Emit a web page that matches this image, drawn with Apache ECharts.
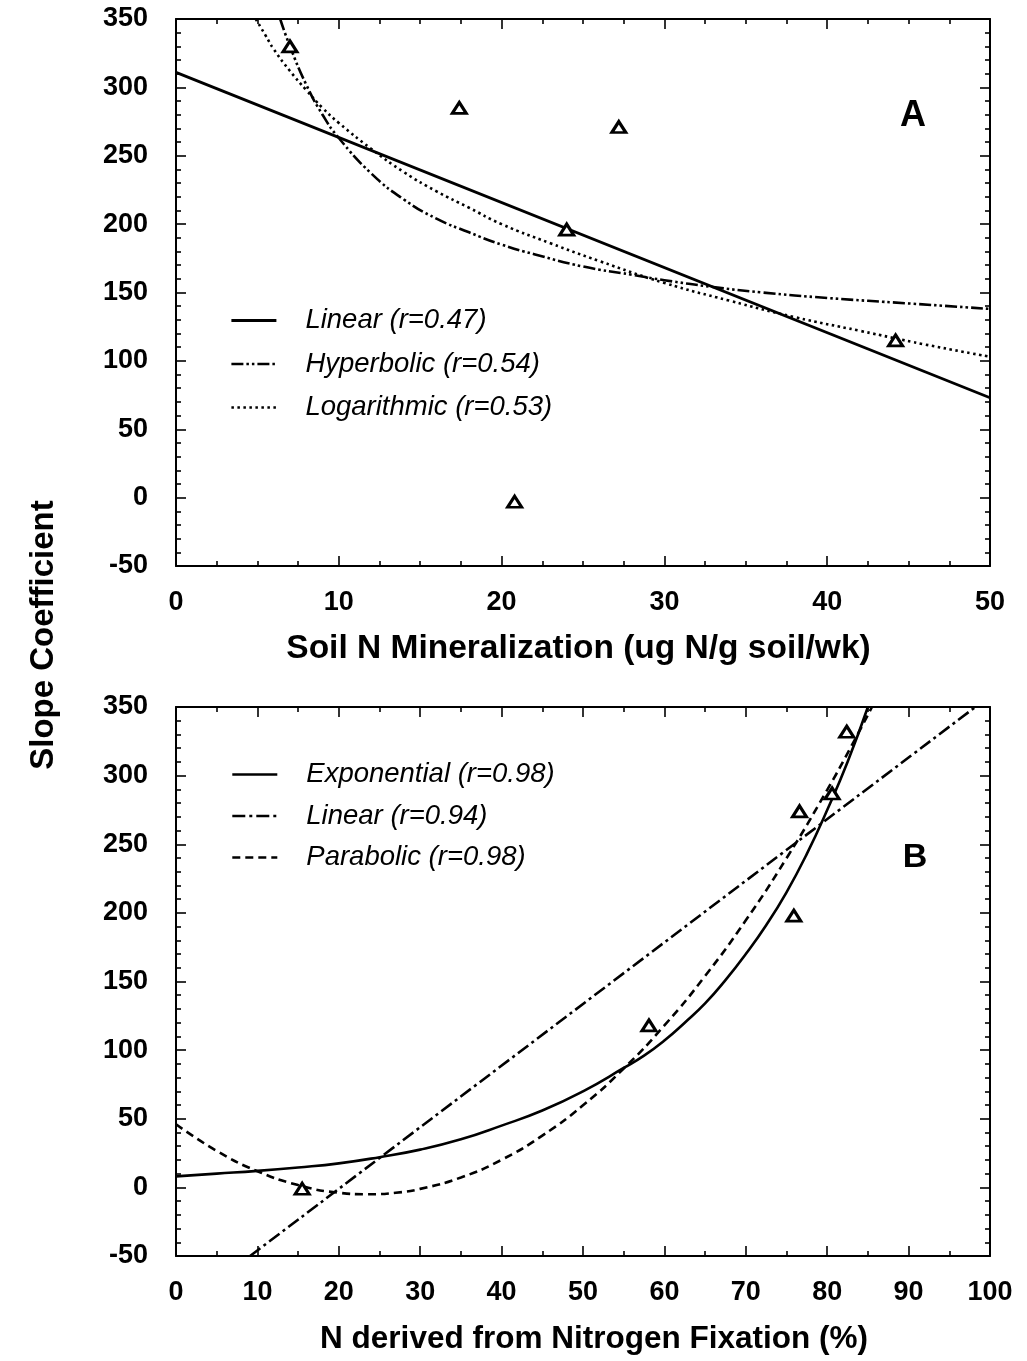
<!DOCTYPE html>
<html><head><meta charset="utf-8">
<script src="https://cdn.jsdelivr.net/npm/echarts@6/dist/echarts.min.js"></script>
<style>html,body{margin:0;padding:0;background:#fff}#c{width:1027px;height:1361px}</style>
</head><body><div id="c"></div>
<script>
// ---------- Panel A : Soil N mineralization ----------
const xTicksA = [0, 10, 20, 30, 40, 50];
const yTicks = [-50, 0, 50, 100, 150, 200, 250, 300, 350];
const obsA_x = [7.0, 17.4, 27.2, 24.0, 44.2, 20.8];
const obsA_y = [330, 285, 271, 196, 115, -3];
const linA_x = [0, 50];
const linA_y = [311, 73];
const hypA_x = [6.4, 7, 8, 9, 10, 12, 14, 16, 18, 20, 22, 25, 28, 30, 33, 36, 40, 45, 50];
const hypA_y = [350, 330, 302, 280, 263, 237, 218, 204, 194, 185, 178, 169, 163, 159, 154, 150, 146, 142, 138];
const logA_x = [4.9, 5.5, 6, 7, 8, 9, 10, 12, 14, 16, 18, 20, 23, 26, 30, 34, 38, 42, 46, 50];
const logA_y = [350, 338, 328, 312, 298, 285, 274, 255, 238, 224, 212, 200, 186, 173, 157, 144, 132, 122, 112, 103];
const legendA = ['Linear (r=0.47)', 'Hyperbolic (r=0.54)', 'Logarithmic (r=0.53)'];

// ---------- Panel B : N from fixation ----------
const xTicksB = [0, 10, 20, 30, 40, 50, 60, 70, 80, 90, 100];
const obsB_x = [15.5, 58.1, 75.9, 76.6, 80.6, 82.4];
const obsB_y = [-1, 118, 198, 274, 287, 332];
const expB_x = [0, 5, 10, 15, 20, 25, 30, 35, 40, 45, 50, 55, 57.5, 60, 62.5, 65, 67.5, 70, 72.5, 75, 77.5, 80, 82.5, 85];
const expB_y = [8, 10, 12, 14.5, 17.5, 22, 27.5, 35, 45, 56, 70, 87, 96, 107, 120, 134, 151, 170, 191, 215, 243, 275, 310, 350];
const linB_x = [9.1, 98.2];
const linB_y = [-50, 350];
const parB_x = [0, 5, 10, 15, 20, 23.5, 27, 30, 35, 40, 45, 50, 55, 60, 65, 70, 75, 80, 83, 85.5];
const parB_y = [46, 26.6, 11.8, 1.7, -3.9, -5, -3.9, -1.1, 7.2, 20.1, 37.7, 59.8, 86.6, 118, 154, 194.6, 239.8, 289.6, 321.8, 350];
const legendB = ['Exponential (r=0.98)', 'Linear (r=0.94)', 'Parabolic (r=0.98)'];

const zip = (xs, ys) => xs.map((x, i) => [x, ys[i]]);
const FONT = 'Liberation Sans, Arial, Helvetica, sans-serif';
const black = '#000';

function xAxisPair(gridIndex, ticks, minorSplit, name, nameGap, nameSize, namePad) {
  const base = {
    gridIndex, type: 'value', min: ticks[0], max: ticks[ticks.length - 1],
    interval: ticks[1] - ticks[0], splitLine: { show: false },
    axisLine: { show: true, onZero: false, lineStyle: { color: black, width: 2 } },
    axisTick: { show: true, inside: true, length: 10, lineStyle: { color: black, width: 1.6 } },
    minorTick: { show: true, splitNumber: minorSplit, length: 5, lineStyle: { color: black, width: 1.6 } },
    minorSplitLine: { show: false }
  };
  return [
    Object.assign({}, base, {
      position: 'bottom',
      axisLabel: { show: true, color: black, fontFamily: FONT, fontWeight: 'bold', fontSize: 27, margin: 23,
        showMinLabel: true, showMaxLabel: true },
      name, nameLocation: 'middle', nameGap,
      nameTextStyle: { color: black, fontFamily: FONT, fontWeight: 'bold', fontSize: nameSize, padding: namePad }
    }),
    Object.assign({}, base, { position: 'top', axisLabel: { show: false } })
  ];
}
function yAxisPair(gridIndex) {
  const base = {
    gridIndex, type: 'value', min: yTicks[0], max: yTicks[yTicks.length - 1],
    interval: yTicks[1] - yTicks[0], splitLine: { show: false },
    axisLine: { show: true, onZero: false, lineStyle: { color: black, width: 2 } },
    axisTick: { show: true, inside: true, length: 10, lineStyle: { color: black, width: 1.6 } },
    minorTick: { show: true, splitNumber: 5, length: 5, lineStyle: { color: black, width: 1.6 } },
    minorSplitLine: { show: false }
  };
  return [
    Object.assign({}, base, {
      position: 'left',
      axisLabel: { show: true, color: black, fontFamily: FONT, fontWeight: 'bold', fontSize: 27, margin: 28,
        showMinLabel: true, showMaxLabel: true }
    }),
    Object.assign({}, base, { position: 'right', axisLabel: { show: false } })
  ];
}

const triStyle = { color: '#fff', borderColor: black, borderWidth: 3, opacity: 1 };
function lineSeries(name, data, xi, yi, type, width) {
  return {
    name, type: 'line', data, xAxisIndex: xi, yAxisIndex: yi, smooth: true,
    symbol: 'none', showSymbol: false, clip: true, silent: true,
    lineStyle: { color: black, width, type },
    itemStyle: { color: 'rgba(0,0,0,0)', borderWidth: 0 }
  };
}

const legendCommon = {
  orient: 'vertical', itemWidth: 45, itemHeight: 14, selectedMode: false, padding: 0,
  lineStyle: { width: 'inherit' },
  itemStyle: { opacity: 0 },
  textStyle: { color: black, fontFamily: FONT, fontStyle: 'italic', fontSize: 27.5, padding: [0, 0, 0, 24] }
};

const option = {
  animation: false,
  backgroundColor: '#fff',
  grid: [
    { left: 176, top: 19, width: 814, height: 547, outerBoundsMode: 'none', containLabel: false },
    { left: 176, top: 707, width: 814, height: 549, outerBoundsMode: 'none', containLabel: false }
  ],
  xAxis: [
    ...xAxisPair(0, xTicksA, 4, 'Soil N Mineralization (ug N/g soil/wk)', 66, 33.5, [0, 9, 0, 0]),
    ...xAxisPair(1, xTicksB, 2, 'N derived from Nitrogen Fixation (%)', 67, 31.5, [0, 0, 0, 22])
  ],
  yAxis: [...yAxisPair(0), ...yAxisPair(1)],
  legend: [
    Object.assign({}, legendCommon, { left: 230, top: 307, itemGap: 16.5, data: legendA }),
    Object.assign({}, legendCommon, { left: 231, top: 761, itemGap: 14.5, data: legendB })
  ],
  graphic: [
    { type: 'text', x: 44, y: 635, rotation: Math.PI / 2,
      style: { text: 'Slope Coefficient', font: 'bold 33px ' + FONT, fill: black, align: 'center', verticalAlign: 'middle' } },
    { type: 'text', x: 913, y: 116,
      style: { text: 'A', font: 'bold 36px ' + FONT, fill: black, align: 'center', verticalAlign: 'middle' } },
    { type: 'text', x: 915, y: 858,
      style: { text: 'B', font: 'bold 34px ' + FONT, fill: black, align: 'center', verticalAlign: 'middle' } }
  ],
  series: [
    lineSeries(legendA[0], zip(linA_x, linA_y), 0, 0, 'solid', 2.8),
    lineSeries(legendA[1], zip(hypA_x, hypA_y), 0, 0, [12, 3, 2.5, 3, 2.5, 3], 2.6),
    lineSeries(legendA[2], zip(logA_x, logA_y), 0, 0, [2.5, 3.5], 2.6),
    { name: 'Observed A', type: 'scatter', xAxisIndex: 0, yAxisIndex: 0, data: zip(obsA_x, obsA_y),
      symbol: 'triangle', symbolSize: [14, 11], itemStyle: triStyle, silent: true, z: 5 },
    lineSeries(legendB[0], zip(expB_x, expB_y), 2, 2, 'solid', 2.6),
    lineSeries(legendB[1], zip(linB_x, linB_y), 2, 2, [13, 4, 3, 4], 2.6),
    lineSeries(legendB[2], zip(parB_x, parB_y), 2, 2, [8, 5], 2.6),
    { name: 'Observed B', type: 'scatter', xAxisIndex: 2, yAxisIndex: 2, data: zip(obsB_x, obsB_y),
      symbol: 'triangle', symbolSize: [14, 11], itemStyle: triStyle, silent: true, z: 5 }
  ]
};
const chart = echarts.init(document.getElementById('c'), null, { renderer: 'canvas' });
chart.setOption(option);
</script>
</body></html>
